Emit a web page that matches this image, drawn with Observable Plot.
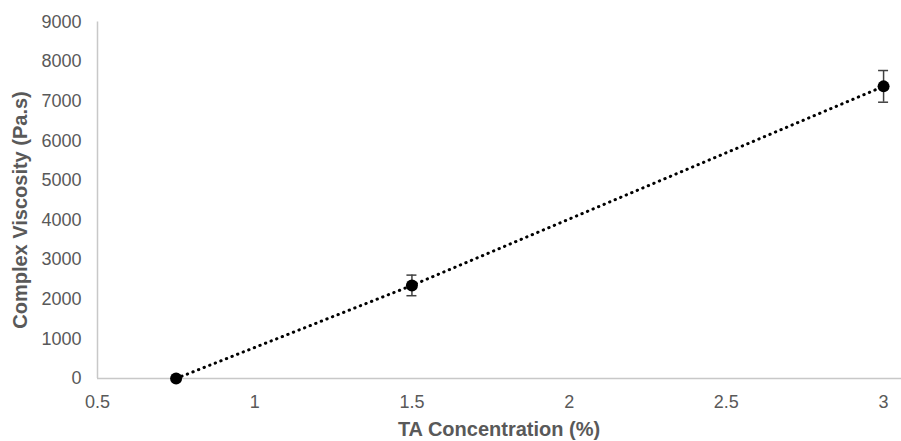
<!DOCTYPE html>
<html>
<head>
<meta charset="utf-8">
<script src="https://cdn.jsdelivr.net/npm/d3@7"></script>
<script src="https://cdn.jsdelivr.net/npm/@observablehq/plot@0.6"></script>
<style>
  html, body { margin: 0; padding: 0; background: #fff; }
  #chart { width: 901px; height: 441px; }
</style>
</head>
<body>
<div id="chart"></div>
<script>
const concentration = [0.75, 1.5, 3];
const viscosity = [0, 2350, 7375];
const errorBar = [0, 260, 400];
const xTicks = [0.5, 1, 1.5, 2, 2.5, 3];
const yTicks = [0, 1000, 2000, 3000, 4000, 5000, 6000, 7000, 8000, 9000];

const data = concentration.map((c, i) => ({x: c, y: viscosity[i], lo: viscosity[i] - errorBar[i], hi: viscosity[i] + errorBar[i], e: errorBar[i]}));
const errData = data.filter(d => d.e > 0);

const font = "Liberation Sans, Arial, sans-serif";
const chart = Plot.plot({
  width: 901,
  height: 441,
  marginLeft: 97,
  marginRight: 0,
  marginTop: 21.5,
  marginBottom: 63,
  style: {fontFamily: font, fontSize: "18px", color: "#595959", background: "#fff"},
  x: {type: "linear", domain: [0.5, 3.057], ticks: xTicks, tickSize: 0, tickPadding: 17, label: null, tickFormat: d => String(d)},
  y: {type: "linear", domain: [0, 9000], ticks: yTicks, tickSize: 0, tickPadding: 16, label: null, tickFormat: d3.format("d")},
  marks: [
    Plot.ruleX([0.5], {y1: 0, y2: 9000, stroke: "#c8c8c8", strokeWidth: 1.5}),
    Plot.ruleY([0], {stroke: "#c8c8c8", strokeWidth: 1.5}),
    Plot.line(data, {x: "x", y: "y", stroke: "#000", strokeWidth: 3, strokeDasharray: "0.4 5.6", strokeLinecap: "round"}),
    Plot.ruleX(errData, {x: "x", y1: "lo", y2: "hi", stroke: "#404040", strokeWidth: 1.5}),
    Plot.ruleY(errData, {y: "lo", x1: "x", x2: "x", insetLeft: -5, insetRight: -5, stroke: "#404040", strokeWidth: 1.5}),
    Plot.ruleY(errData, {y: "hi", x1: "x", x2: "x", insetLeft: -5, insetRight: -5, stroke: "#404040", strokeWidth: 1.5}),
    Plot.dot(data, {x: "x", y: "y", r: 6, fill: "#000", stroke: "none"})
  ]
});

const wrap = document.createElement("div");
wrap.style.position = "relative";
wrap.style.width = "901px";
wrap.style.height = "441px";
wrap.appendChild(chart);

const xTitle = document.createElement("div");
xTitle.textContent = "TA Concentration (%)";
Object.assign(xTitle.style, {position: "absolute", left: "97px", width: "804px", top: "418px", textAlign: "center", fontFamily: font, fontWeight: "bold", fontSize: "20px", lineHeight: "22px", color: "#595959"});
wrap.appendChild(xTitle);

const yTitle = document.createElement("div");
yTitle.textContent = "Complex Viscosity (Pa.s)";
Object.assign(yTitle.style, {position: "absolute", left: "20px", top: "210px", transform: "translate(-50%, -50%) rotate(-90deg)", whiteSpace: "nowrap", fontFamily: font, fontWeight: "bold", fontSize: "20px", lineHeight: "22px", color: "#595959"});
wrap.appendChild(yTitle);

document.getElementById("chart").appendChild(wrap);
</script>
</body>
</html>
